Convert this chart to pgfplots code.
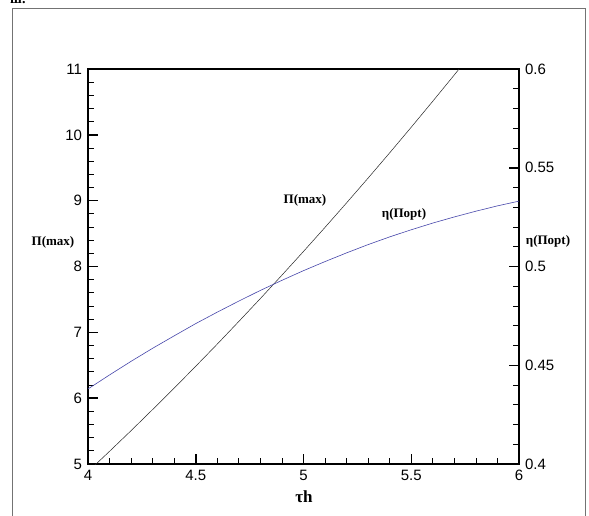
\documentclass[border=0pt]{standalone}
\usepackage{fontspec}
\setmainfont{Liberation Serif}
\newfontfamily\arial{Liberation Sans}
\usepackage{pgfplots}
\pgfplotsset{compat=1.18}
\definecolor{etablue}{RGB}{70,70,170}
\begin{document}
\begin{tikzpicture}[x=1pt,y=1pt]
\useasboundingbox (0,0) rectangle (589,515);
\draw[black!55, line width=1pt] (12,-20) -- (12,506) -- (585,506) -- (585,-20);
\node[anchor=base west, font=\bfseries\fontsize{14}{16}\selectfont, inner sep=0] at (10,511) {ш.};
\pgfplotsset{
  common/.style={
    at={(88pt,51pt)}, anchor=south west, scale only axis,
    width=431pt, height=395pt,
    xmin=4, xmax=6,
    tick align=inside, major tick length=10pt, minor tick length=6pt,
    axis line style={line width=1.8pt},
    every major tick/.append style={line width=1.5pt, black},
    every minor tick/.append style={line width=0.8pt, black},
    ticklabel style={font=\arial\fontsize{15}{17}\selectfont},
    /pgf/number format/assume math mode=true,
  }
}
\begin{axis}[common,
  ymin=5, ymax=11,
  xtick={4,4.5,5,5.5,6}, ytick={5,6,7,8,9,10,11},
  minor x tick num=4, minor y tick num=4,
  xtick pos=left, ytick pos=left,
  yticklabel style={xshift=-2.5pt},
  xticklabel style={yshift=-2.5pt},
]
\addplot[black!85, line width=0.5pt] coordinates {
(4.0,4.884) (4.1,5.193) (4.2,5.507) (4.3,5.828) (4.4,6.153) (4.5,6.485)
(4.6,6.822) (4.7,7.166) (4.8,7.514) (4.9,7.869) (5.0,8.229) (5.1,8.595)
(5.2,8.967) (5.3,9.344) (5.4,9.727) (5.5,10.116) (5.6,10.511) (5.7,10.911) (5.8,11.317)
};
\end{axis}
\begin{axis}[common,
  ymin=0.4, ymax=0.6,
  hide x axis, axis y line*=right,
  ytick={0.4,0.45,0.5,0.55,0.6}, minor y tick num=4,
  tick align=inside,
  yticklabel style={/pgf/number format/fixed, /pgf/number format/precision=2, xshift=2.5pt},
]
\addplot[etablue, line width=0.6pt] coordinates {
(4.0,0.4380) (4.1,0.4451) (4.2,0.4520) (4.3,0.4586) (4.4,0.4649) (4.5,0.4711)
(4.6,0.4769) (4.7,0.4825) (4.8,0.4879) (4.9,0.4930) (5.0,0.4979) (5.1,0.5025)
(5.2,0.5069) (5.3,0.5111) (5.4,0.5150) (5.5,0.5186) (5.6,0.5220) (5.7,0.5251)
(5.8,0.5280) (5.9,0.5307) (6.0,0.5331)
};
\end{axis}
\begin{scope}[font=\bfseries\fontsize{13}{15}\selectfont]
\node at (53,273) {Π(max)};
\node at (548,274) {η(Πopt)};
\node at (305,315) {Π(max)};
\node at (404,301) {η(Πopt)};
\end{scope}
\node[font=\bfseries\fontsize{17}{19}\selectfont] at (304,18) {τh};
\end{tikzpicture}
\end{document}
